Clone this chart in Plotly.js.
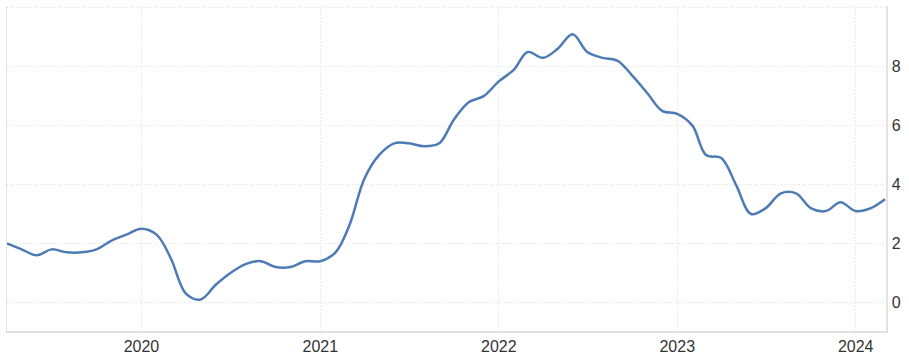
<!DOCTYPE html>
<html>
<head>
<meta charset="utf-8">
<script src="https://cdn.plot.ly/plotly-3.0.1.min.js"></script>
<style>html,body{margin:0;padding:0;background:#fff;}#chart{width:909px;height:356px;}</style>
</head>
<body>
<div id="chart"></div>
<script>
const months = [
  "2019-04-01","2019-05-01","2019-06-01","2019-07-01","2019-08-01","2019-09-01","2019-10-01","2019-11-01","2019-12-01",
  "2020-01-01","2020-02-01","2020-03-01","2020-04-01","2020-05-01","2020-06-01","2020-07-01","2020-08-01","2020-09-01","2020-10-01","2020-11-01","2020-12-01",
  "2021-01-01","2021-02-01","2021-03-01","2021-04-01","2021-05-01","2021-06-01","2021-07-01","2021-08-01","2021-09-01","2021-10-01","2021-11-01","2021-12-01",
  "2022-01-01","2022-02-01","2022-03-01","2022-04-01","2022-05-01","2022-06-01","2022-07-01","2022-08-01","2022-09-01","2022-10-01","2022-11-01","2022-12-01",
  "2023-01-01","2023-02-01","2023-03-01","2023-04-01","2023-05-01","2023-06-01","2023-07-01","2023-08-01","2023-09-01","2023-10-01","2023-11-01","2023-12-01",
  "2024-01-01","2024-02-01","2024-03-01"
];
const inflation = [
  2.0,1.8,1.6,1.8,1.7,1.7,1.8,2.1,2.3,
  2.5,2.3,1.5,0.3,0.1,0.6,1.0,1.3,1.4,1.2,1.2,1.4,
  1.4,1.7,2.6,4.2,5.0,5.4,5.4,5.3,5.4,6.2,6.8,7.0,
  7.5,7.9,8.5,8.3,8.6,9.1,8.5,8.3,8.2,7.7,7.1,6.5,
  6.4,6.0,5.0,4.9,4.0,3.0,3.2,3.7,3.7,3.2,3.1,3.4,
  3.1,3.2,3.5
];
const yTickVals = [0,2,4,6,8,10];
const yTickText = ["0","2","4","6","8",""];
const xTickVals = ["2020-01-01","2021-01-01","2022-01-01","2023-01-01","2024-01-01"];
const xTickText = ["2020","2021","2022","2023","2024"];

const trace = {
  x: months, y: inflation, type: "scatter", mode: "lines",
  line: {color: "#4d7bb5", width: 2.5, shape: "spline", smoothing: 1},
  hoverinfo: "x+y"
};
const layout = {
  width: 909, height: 356,
  margin: {l: 7, r: 23, t: 6, b: 25, pad: 0},
  paper_bgcolor: "#fff", plot_bgcolor: "#fff",
  showlegend: false,
  font: {family: "Liberation Sans, Arial, sans-serif", size: 16, color: "#333"},
  xaxis: {
    type: "date", range: ["2019-04-01", "2024-03-03"],
    tickvals: xTickVals, ticktext: xTickText,
    showgrid: true, gridcolor: "#e0e0e0", griddash: "1px,2px", gridwidth: 1,
    showline: true, linecolor: "#e0e0e0", linewidth: 1.5,
    ticks: "", zeroline: false, tickfont: {size: 16, color: "#333"}, ticklabelstandoff: 0
  },
  yaxis: {
    side: "right", range: [-0.97, 10.06],
    tickvals: yTickVals, ticktext: yTickText,
    showgrid: true, gridcolor: "#e0e0e0", griddash: "1px,2px", gridwidth: 1,
    showline: true, mirror: true, linecolor: "#e3e3e3", linewidth: 1.5,
    ticks: "", zeroline: false, tickfont: {size: 16, color: "#333"}, ticklabelstandoff: 1
  }
};
Plotly.newPlot("chart", [trace], layout, {displayModeBar: false, staticPlot: true});
</script>
</body>
</html>
